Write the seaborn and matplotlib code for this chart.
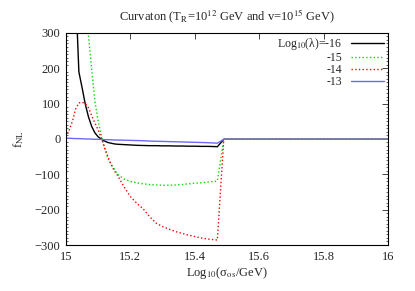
import numpy as np
import pandas as pd
import matplotlib
matplotlib.use("Agg")
import matplotlib.pyplot as plt
from matplotlib.ticker import MultipleLocator
import seaborn as sns

# log10(sigma_os / GeV)
log_sigma = [15.00, 15.01, 15.02, 15.03, 15.04, 15.05, 15.06, 15.07, 15.08, 15.09,
             15.10, 15.11, 15.12, 15.13, 15.14, 15.15, 15.16, 15.18, 15.20, 15.22,
             15.24, 15.26, 15.28, 15.30, 15.32, 15.34, 15.36, 15.38, 15.40, 15.42,
             15.44, 15.46, 15.47, 15.49, 15.50, 15.60, 15.70, 15.80, 15.90, 16.00]

fnl_m16 = [1500, 1000, 700, 420, 190, 145, 98, 62, 35, 17,
           6, -1, -6, -10, -12, -14, -15, -16, -17, -18,
           -18.5, -19, -19, -19.5, -19.5, -20, -20, -20.5, -20.5, -21,
           -21, -21.5, -22, -1, -1, -1, -1, -1, -1, -1]

fnl_m15 = [3000, 2000, 1300, 900, 650, 480, 380, 290, 195, 105,
           50, 8, -25, -55, -72, -85, -100, -113, -120, -124,
           -127, -129, -130, -131, -131, -130, -129, -127, -125, -124,
           -122, -120, -119, -1, -1, -1, -1, -1, -1, -1]

fnl_m14 = [5, 25, 50, 85, 102, 104, 100, 88, 65, 45,
           25, 2, -25, -50, -72, -90, -103, -135, -163, -182,
           -198, -220, -238, -248, -255, -262, -267, -272, -276, -280,
           -283, -285, -286, -1, -1, -1, -1, -1, -1, -1]

fnl_m13 = [2, 2, 1.5, 1, 1, 0.5, 0, 0, -0.5, -1,
           -1, -1.5, -2, -2, -2.5, -3, -3, -3.5, -4, -4.5,
           -5, -6, -6.5, -7, -7.5, -8, -8.5, -9, -9.5, -10,
           -10.5, -11.5, -12, -1, -1, -1, -1, -1, -1, -1]

labels = [r"Log$_{\mathrm{10}}$(λ)=-16", "-15", "-14", "-13"]
colors = ["black", "#00e000", "red", "#6a6aff"]
styles = ["-", ":", ":", "-"]

sns.set_style("white")
plt.rcParams["font.family"] = ["Liberation Serif", "DejaVu Serif"]
plt.rcParams["mathtext.fontset"] = "stix"

fig = plt.figure(figsize=(4.15, 2.91), dpi=100)
ax = fig.add_axes([0.159, 0.158, 0.776, 0.729])

for ys, lab, c, ls in zip([fnl_m16, fnl_m15, fnl_m14, fnl_m13], labels, colors, styles):
    df = pd.DataFrame({"x": log_sigma, "y": ys})
    sns.lineplot(data=df, x="x", y="y", ax=ax, color=c, linestyle=ls,
                 linewidth=1.0, label=lab)

ax.set_xlim(15, 16)
ax.set_ylim(-300, 300)
ax.xaxis.set_major_locator(MultipleLocator(0.2))
ax.yaxis.set_major_locator(MultipleLocator(100))
ax.yaxis.set_minor_locator(MultipleLocator(10))
ax.xaxis.set_major_formatter(plt.FuncFormatter(lambda v, p: f"{v:g}"))
ax.tick_params(axis="both", which="major", direction="in", length=4, width=0.6,
               top=True, right=True, labelsize=9, pad=4)
ax.tick_params(axis="y", which="minor", direction="in", length=1.5, width=0.5,
               left=True, right=True)
for s in ax.spines.values():
    s.set_linewidth(0.8)
    s.set_color("black")

ax.set_xlabel(r"Log$_{\mathrm{10}}$(σ$_{\mathrm{os}}$/GeV)", fontsize=9, labelpad=2)
ax.set_ylabel(r"f$_{\mathrm{NL}}$", fontsize=9, labelpad=6)
ax.set_title(r"Curvaton (T$_{\mathrm{R}}$=10$^{\mathrm{12}}$ GeV and v=10$^{\mathrm{15}}$ GeV)",
             fontsize=9, pad=8)

ax.legend(loc="upper right", frameon=False, markerfirst=False, fontsize=8.5,
          handlelength=2.8, labelspacing=0.0, borderaxespad=0.1,
          borderpad=0.2, handletextpad=0.8)

fig.savefig("out.png", dpi=100)
